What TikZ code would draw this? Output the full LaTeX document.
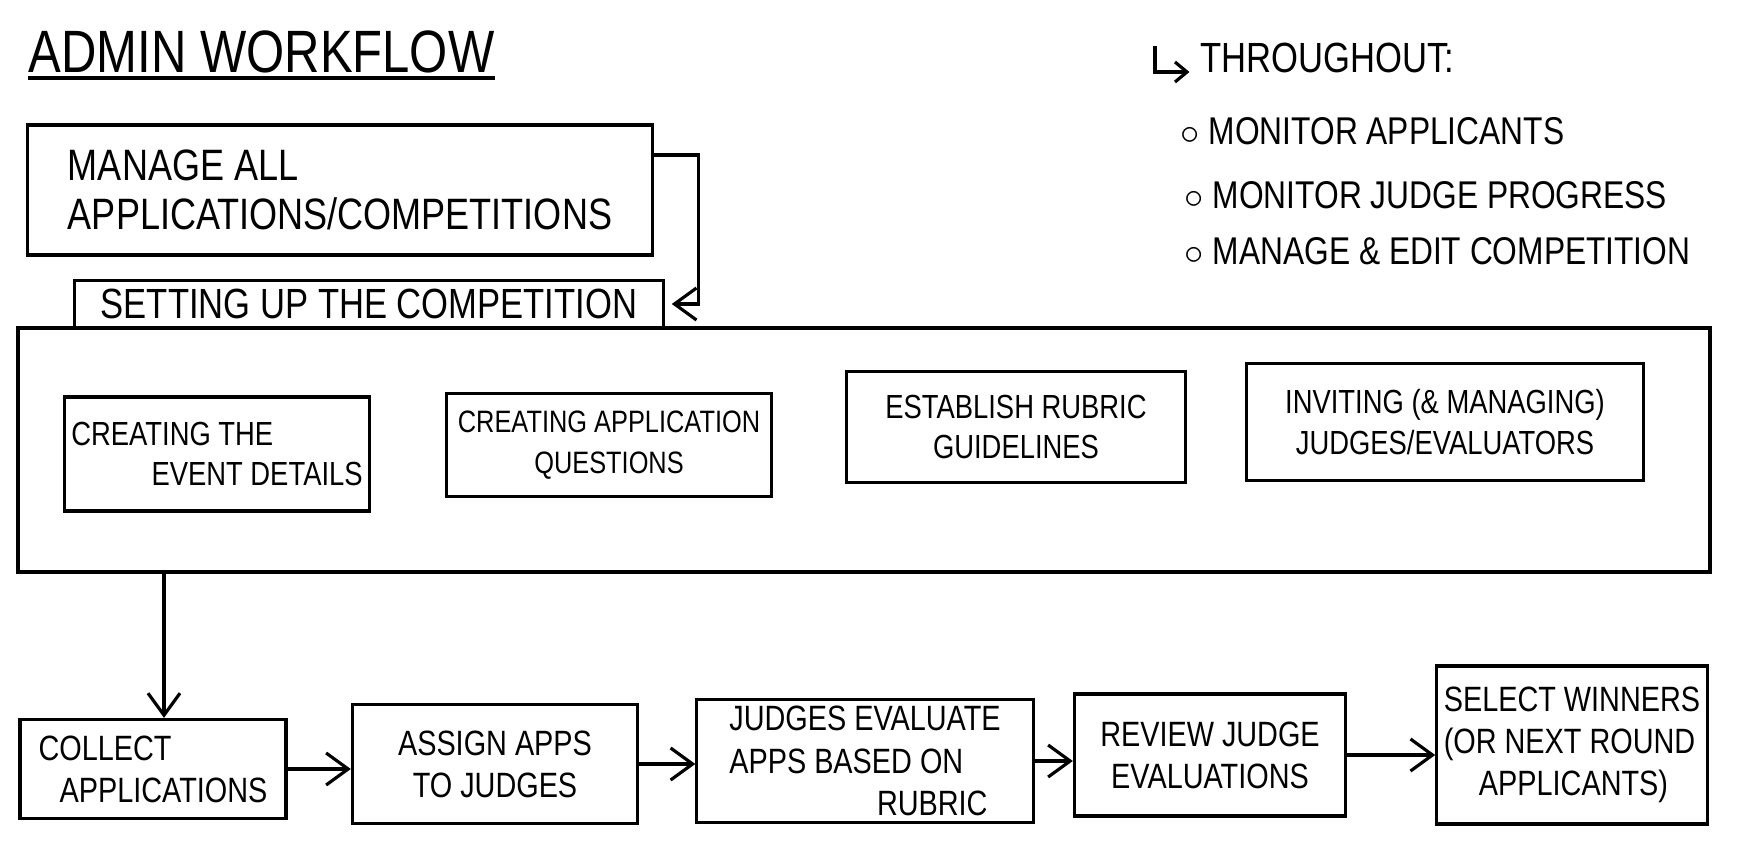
\documentclass[tikz,border=0pt]{standalone}
\usepackage{fontspec}
\setmainfont{Liberation Sans}[FakeStretch=0.82]
\usetikzlibrary{arrows.meta,positioning,calc}
\tikzset{
   every path/.style={>={Straight Barb[length=2.2mm,width=3.2mm]}},
   mainbox/.style={draw,line width=0.9pt,align=left,inner sep=2pt,font=\fontsize{12.5}{14}\selectfont},
   tabbox/.style={draw,line width=0.9pt,inner sep=2pt,font=\fontsize{12}{14}\selectfont},
   frame/.style={draw,line width=0.9pt},
   task/.style={draw,line width=0.9pt,align=center,inner sep=2pt,font=\fontsize{9.5}{11.5}\selectfont},
   stage/.style={draw,line width=0.9pt,align=center,inner sep=2pt,font=\fontsize{10}{12}\selectfont},
   flow/.style={->,line width=0.9pt},
   note/.style={inner sep=0pt,anchor=base west,font=\fontsize{11}{13}\selectfont},
}
\begin{document}
\begin{tikzpicture}[x=0.01cm,y=-0.01cm]

\useasboundingbox (0,0) rectangle (1741,854);

% =========================================================
% title
% =========================================================

\node[inner sep=0pt,anchor=base west,font=\fontsize{17}{20}\selectfont] (title) at (28,72) {ADMIN WORKFLOW};
\draw[line width=0.9pt] ([yshift=-0.06cm]title.base west) -- ([yshift=-0.06cm]title.base east);


% =========================================================
% manage + setting up
% =========================================================

\node[mainbox,minimum width=6.25cm,minimum height=1.3cm] (manage) at (340,190)
{MANAGE ALL\\APPLICATIONS/COMPETITIONS};

\node[frame,minimum width=16.91cm,minimum height=2.44cm] (setup) at (864,450) {};

\node[tabbox,minimum width=5.88cm,minimum height=0.47cm] (tab) at (369,304) {SETTING UP THE COMPETITION};

\draw[flow] ([yshift=0.35cm]manage.east) -- ++(44,0) |- ([xshift=2pt]tab.east);

\node[task,align=left,minimum width=2.94cm,minimum height=1.14cm] (event) at (217,454)
{CREATING THE\\\hspace*{2.4em}EVENT DETAILS};
\node[task,font=\fontsize{8.8}{11.5}\selectfont,minimum width=3.25cm,minimum height=1.03cm] (questions) at (609,445)
{CREATING APPLICATION\\QUESTIONS};
\node[task,minimum width=3.39cm,minimum height=1.11cm] (rubric) at (1016,427)
{ESTABLISH RUBRIC\\GUIDELINES};
\node[task,minimum width=3.96cm,minimum height=1.17cm] (judges) at (1445,422)
{INVITING (\& MANAGING)\\JUDGES/EVALUATORS};


% =========================================================
% throughout
% =========================================================

\node[note,font=\fontsize{12}{14}\selectfont] (through) at (1200,72) {THROUGHOUT:};
\coordinate (hook) at (1155,46);
\draw[flow,>={Straight Barb[length=1.2mm,width=2mm]}] (hook) |- ([xshift=-3pt]through.base west);

\node[note] (monapp) at (1180,144) {$\circ$ MONITOR APPLICANTS};
\node[note] (monjudge) at (1184,208) {$\circ$ MONITOR JUDGE PROGRESS};
\node[note] (edit) at (1184,264) {$\circ$ MANAGE \& EDIT COMPETITION};


% =========================================================
% evaluation row
% =========================================================

\node[stage,align=left,minimum width=2.66cm,minimum height=0.99cm] (collect) at (153,769)
{COLLECT\\\hspace*{0.6em}APPLICATIONS};
\node[stage,minimum width=2.85cm,minimum height=1.19cm] (assign) at (495,764)
{ASSIGN APPS\\TO JUDGES};
\node[stage,align=left,minimum width=3.36cm,minimum height=1.22cm] (evaluate) at (865,761)
{JUDGES EVALUATE\\APPS BASED ON\\\hspace*{4.2em}RUBRIC};
\node[stage,minimum width=2.71cm,minimum height=1.22cm] (review) at (1210,755)
{REVIEW JUDGE\\EVALUATIONS};
\node[stage,align=left,minimum width=2.63cm,minimum height=1.58cm] (select) at (1572,745)
{SELECT WINNERS\\(OR NEXT ROUND\\\hspace*{1em}APPLICANTS)};

\coordinate (drop) at ([xshift=0.11cm]collect.north);
\draw[flow] (setup.south -| drop) -- (drop);
\draw[flow] (collect.east) -- (collect.east -| assign.west);
\draw[flow] (assign.east) -- (assign.east -| evaluate.west);
\draw[flow] (evaluate.east) -- (evaluate.east -| review.west);
\draw[flow] (review.east) -- (review.east -| select.west);

\end{tikzpicture}
\end{document}
